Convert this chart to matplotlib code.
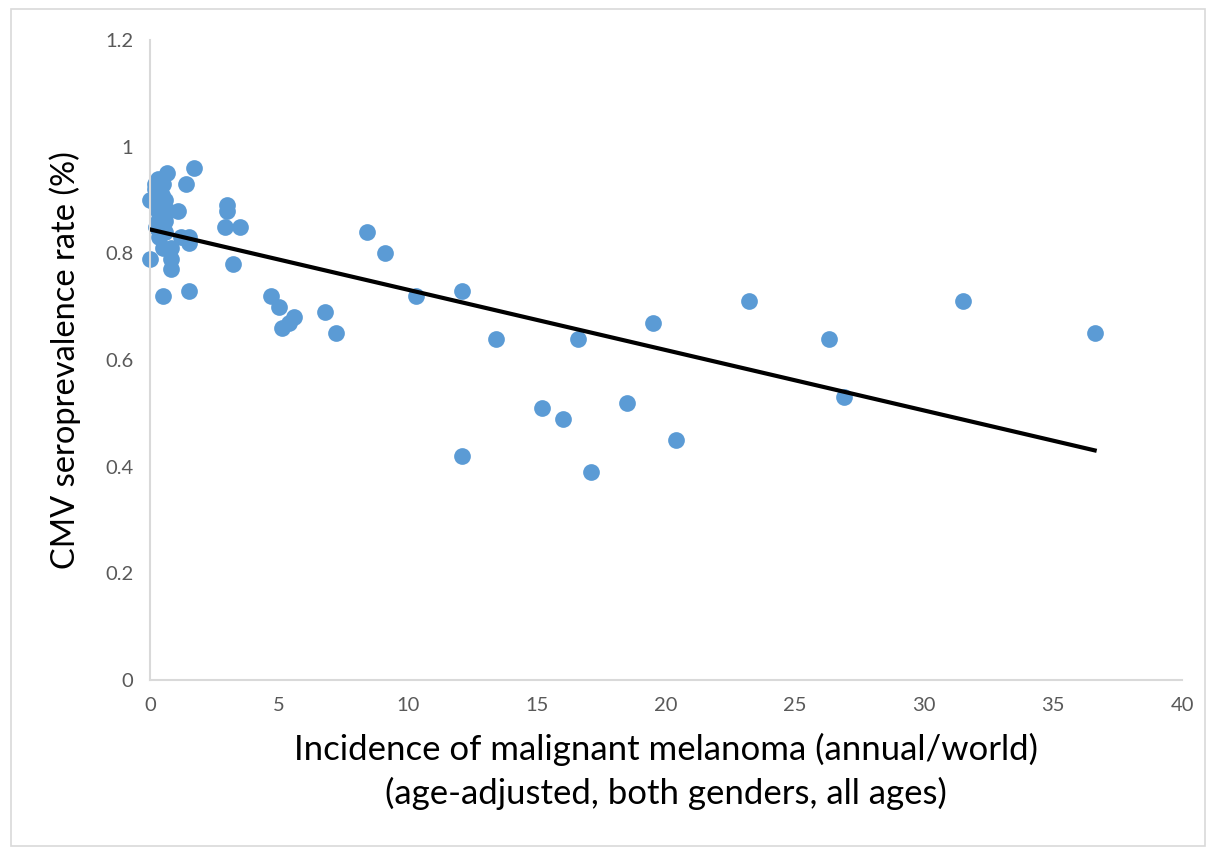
import numpy as np
import matplotlib.pyplot as plt
from matplotlib.patches import Rectangle

# incidence of malignant melanoma (x) vs CMV seroprevalence (y)
incidence = [0.65, 1.7, 1.4, 0.0, 3.0, 3.0, 1.1, 2.9, 3.5, 1.5, 1.5, 3.2, 1.5, 0.5,
             0.0, 0.8, 0.8, 0.8, 0.5, 8.4, 9.1, 10.3, 12.1, 12.1, 13.4, 15.2, 16.0,
             16.6, 17.1, 18.5, 19.5, 20.4, 23.2, 26.3, 26.9, 31.5, 36.6,
             4.7, 5.0, 5.1, 5.4, 5.6, 6.8, 7.2,
             0.3, 0.2, 0.4, 0.5, 0.45, 0.3, 0.6, 0.3, 0.4, 0.6, 0.3, 0.35, 0.55,
             0.2, 0.7, 0.4, 0.5, 0.25, 1.2, 0.6]
prevalence = [0.95, 0.96, 0.93, 0.90, 0.89, 0.88, 0.88, 0.85, 0.85, 0.83, 0.82, 0.78, 0.73, 0.72,
              0.79, 0.79, 0.77, 0.81, 0.81, 0.84, 0.80, 0.72, 0.73, 0.42, 0.64, 0.51, 0.49,
              0.64, 0.39, 0.52, 0.67, 0.45, 0.71, 0.64, 0.53, 0.71, 0.65,
              0.72, 0.70, 0.66, 0.67, 0.68, 0.69, 0.65,
              0.94, 0.92, 0.93, 0.93, 0.91, 0.90, 0.90, 0.88, 0.87, 0.86, 0.86, 0.83, 0.84,
              0.93, 0.88, 0.89, 0.86, 0.85, 0.83, 0.84]

x_ticks = [0, 5, 10, 15, 20, 25, 30, 35, 40]
y_ticks = [0, 0.2, 0.4, 0.6, 0.8, 1, 1.2]
y_labels = ['0', '0.2', '0.4', '0.6', '0.8', '1', '1.2']

plt.rcParams['font.family'] = ['Lato', 'DejaVu Sans']

fig = plt.figure(figsize=(12.09, 8.49), dpi=100)
ax = fig.add_axes([0.124, 0.199, 0.854, 0.754])

x = np.array(incidence)
y = np.array(prevalence)
ax.scatter(x, y, s=145, color='#5b9bd5', zorder=2, linewidths=0, clip_on=False)

# linear trendline
k, b = np.polyfit(x, y, 1)
xs = np.array([x.min(), x.max()])
ax.plot(xs, k * xs + b, color='black', lw=3, zorder=3)

ax.set_xlim(0, 40)
ax.set_ylim(0, 1.2)
ax.set_xticks(x_ticks)
ax.set_yticks(y_ticks)
ax.set_yticklabels(y_labels)
ax.tick_params(length=0, labelsize=14.5, colors='#595959', pad=12)
for s in ['top', 'right']:
    ax.spines[s].set_visible(False)
for s in ['left', 'bottom']:
    ax.spines[s].set_color('#d9d9d9')
    ax.spines[s].set_linewidth(1.5)

ax.set_xlabel('Incidence of malignant melanoma (annual/world)\n(age-adjusted, both genders, all ages)',
              fontsize=25, labelpad=14, linespacing=1.4)
ax.set_ylabel('CMV seroprevalence rate (%)', fontsize=23.5, labelpad=17)

# outer border
fig.patches.append(Rectangle((0.009, 0.004), 0.988, 0.985, transform=fig.transFigure,
                             fill=False, edgecolor='#d9d9d9', lw=1.2))

plt.savefig('out.png')
